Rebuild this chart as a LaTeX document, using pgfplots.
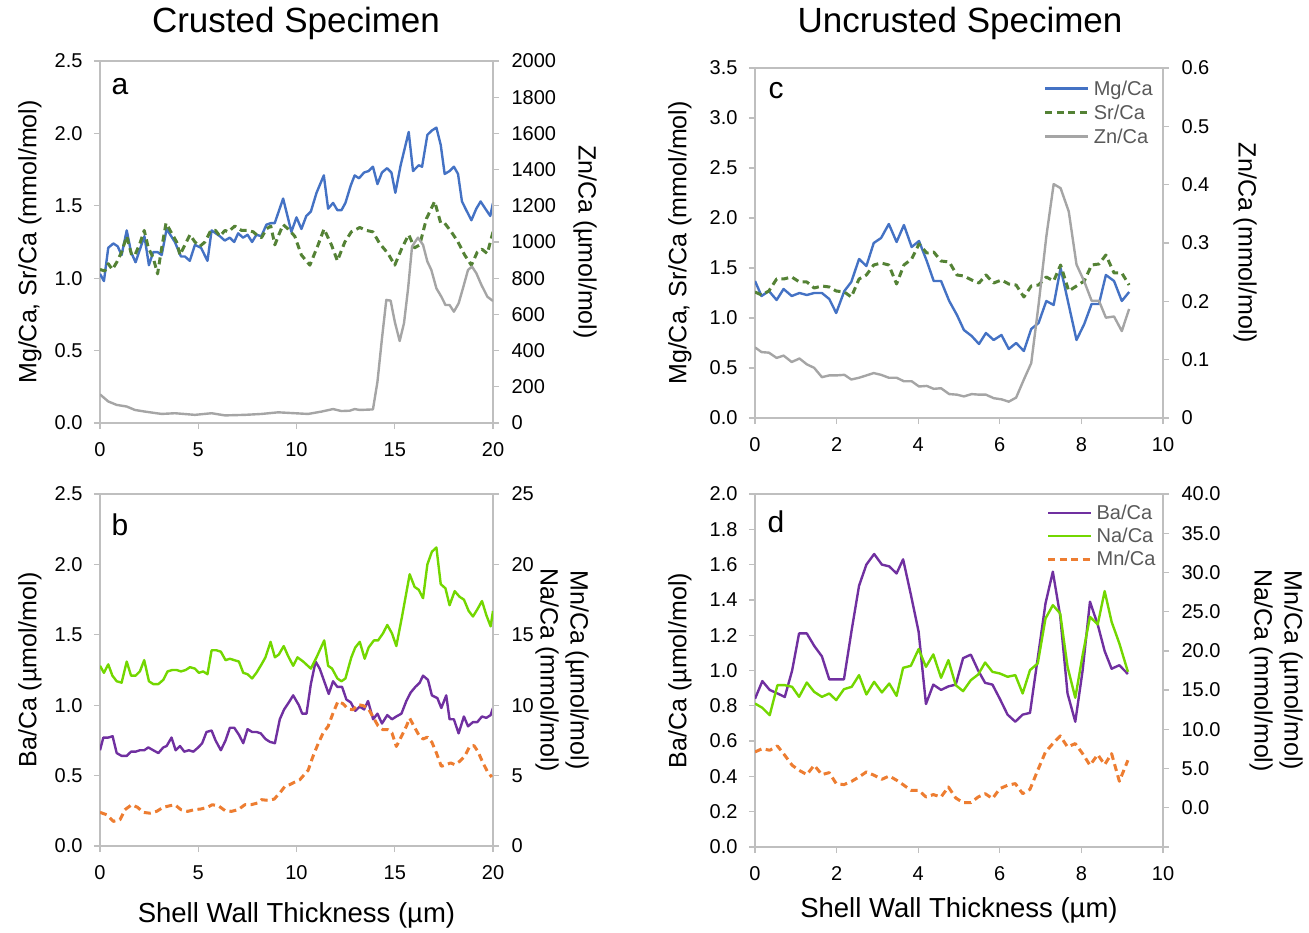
\documentclass[border=0pt]{standalone}
\usepackage{fontspec}
\setmainfont{Liberation Sans}
\usepackage{pgfplots}
\usepackage{pgfplotstable}
\pgfplotsset{compat=1.18}

\definecolor{mgblue}{RGB}{68,114,196}
\definecolor{srgreen}{RGB}{84,130,53}
\definecolor{zngrey}{RGB}{165,165,165}
\definecolor{bapurple}{RGB}{112,48,160}
\definecolor{nagreen}{RGB}{115,215,0}
\definecolor{mnorange}{RGB}{237,125,49}
\definecolor{axisgrey}{RGB}{191,191,191}
\definecolor{legendgrey}{RGB}{89,89,89}

% ---------- crusted specimen: Mg, Sr (mmol/mol), Zn (umol/mol) ----------
\pgfplotstableread{
x y
0 1.03
0.2 0.98
0.42 1.21
0.68 1.24
0.9 1.22
1.1 1.16
1.36 1.33
1.58 1.18
1.81 1.11
2.26 1.29
2.49 1.09
2.71 1.18
2.93 1.18
3.14 1.16
3.39 1.34
3.81 1.25
4.12 1.15
4.32 1.15
4.57 1.12
4.83 1.23
5.14 1.21
5.47 1.12
5.68 1.33
6.1 1.29
6.35 1.26
6.6 1.28
6.83 1.25
7.03 1.31
7.28 1.28
7.51 1.30
7.74 1.25
7.96 1.30
8.21 1.29
8.47 1.37
8.69 1.38
8.89 1.38
9.32 1.55
9.74 1.32
10.0 1.42
10.25 1.34
10.5 1.43
10.73 1.46
11.02 1.59
11.39 1.71
11.61 1.48
11.86 1.52
12.08 1.47
12.29 1.47
12.49 1.52
12.76 1.64
12.96 1.71
13.18 1.69
13.44 1.73
13.67 1.74
13.89 1.77
14.12 1.65
14.35 1.73
14.61 1.76
14.83 1.73
15.03 1.59
15.30 1.78
15.71 2.01
15.93 1.74
16.22 1.78
16.39 1.77
16.66 1.99
16.89 2.02
17.12 2.04
17.34 1.92
17.54 1.72
17.79 1.74
18.01 1.77
18.22 1.72
18.42 1.53
18.64 1.47
18.90 1.40
19.15 1.48
19.37 1.53
19.61 1.48
19.86 1.43
20.0 1.52
}\MgA

\pgfplotstableread{
x y
0 1.06
0.25 1.05
0.42 1.10
0.63 1.06
0.85 1.11
1.1 1.18
1.36 1.29
1.61 1.16
1.78 1.16
2.03 1.24
2.25 1.33
2.46 1.21
2.71 1.14
2.93 1.03
3.14 1.21
3.36 1.38
3.61 1.32
3.9 1.25
4.07 1.16
4.32 1.23
4.58 1.30
4.83 1.25
5.08 1.22
5.34 1.25
5.64 1.33
5.88 1.33
6.1 1.29
6.36 1.33
6.52 1.32
6.86 1.36
7.2 1.33
7.54 1.33
7.8 1.32
8.05 1.29
8.22 1.28
8.47 1.34
8.69 1.36
8.9 1.23
9.1 1.30
9.32 1.37
9.57 1.34
9.91 1.29
10.25 1.16
10.68 1.09
11.1 1.23
11.4 1.34
11.78 1.23
12.08 1.12
12.46 1.25
12.79 1.32
13.22 1.35
13.56 1.33
13.89 1.32
14.23 1.24
14.66 1.17
15.0 1.09
15.37 1.21
15.71 1.30
16.01 1.21
16.27 1.23
16.61 1.41
17.03 1.53
17.34 1.38
17.54 1.38
17.88 1.32
18.22 1.25
18.56 1.16
18.9 1.09
19.2 1.18
19.44 1.20
19.71 1.17
20.0 1.32
}\SrA

\pgfplotstableread{
x y
0 158
0.42 119
0.85 100
1.36 91
1.78 72
2.29 63
3.14 50
3.81 54
4.83 45
5.68 54
6.36 42
7.37 45
8.22 50
9.07 59
9.91 54
10.59 50
11.27 63
11.86 77
12.29 66
12.71 68
12.96 77
13.22 72
13.89 75
14.12 228
14.35 468
14.57 680
14.79 676
15.0 560
15.25 453
15.47 551
15.68 744
15.88 975
16.18 1024
16.44 984
16.66 892
16.86 846
17.12 744
17.37 698
17.58 652
17.79 652
18.01 615
18.25 661
18.47 744
18.73 846
18.93 864
19.15 828
19.41 763
19.71 698
20.0 674
}\ZnA

% ---------- crusted specimen: Ba (umol/mol), Na (mmol/mol), Mn (umol/mol) ----------
\pgfplotstableread{
x y
0 0.68
0.17 0.77
0.42 0.77
0.64 0.78
0.85 0.66
1.1 0.64
1.36 0.64
1.58 0.67
1.81 0.67
2.03 0.68
2.25 0.68
2.46 0.70
2.71 0.68
2.97 0.66
3.22 0.70
3.39 0.71
3.64 0.77
3.85 0.68
4.07 0.71
4.29 0.67
4.52 0.68
4.75 0.67
5.0 0.70
5.2 0.73
5.42 0.81
5.68 0.82
5.88 0.75
6.15 0.68
6.39 0.75
6.61 0.84
6.83 0.84
7.07 0.79
7.29 0.73
7.51 0.83
7.74 0.81
7.96 0.81
8.18 0.80
8.42 0.76
8.64 0.74
8.9 0.73
9.15 0.90
9.37 0.97
9.61 1.02
9.83 1.07
10.12 1.00
10.29 0.94
10.51 0.94
10.73 1.15
10.97 1.31
11.18 1.26
11.41 1.17
11.64 1.08
11.86 1.17
12.08 1.13
12.32 1.13
12.54 1.04
12.76 1.02
12.99 0.96
13.22 0.99
13.44 0.97
13.64 1.03
13.9 0.90
14.12 0.94
14.35 0.87
14.62 0.93
14.86 0.90
15.08 0.92
15.34 0.94
15.59 1.03
15.81 1.09
16.05 1.13
16.27 1.16
16.44 1.21
16.69 1.18
16.89 1.07
17.17 1.05
17.37 0.98
17.62 1.07
17.79 0.90
18.01 0.90
18.25 0.80
18.52 0.92
18.73 0.85
18.98 0.88
19.2 0.88
19.44 0.92
19.66 0.91
19.88 0.93
20.0 0.98
}\BaB

\pgfplotstableread{
x y
0 12.8
0.2 12.3
0.42 12.9
0.63 12.1
0.85 11.7
1.1 11.6
1.36 13.1
1.58 12.1
1.81 12.1
2.03 12.4
2.25 13.2
2.49 11.7
2.71 11.5
2.97 11.5
3.22 11.8
3.44 12.4
3.68 12.5
3.9 12.5
4.12 12.4
4.36 12.5
4.58 12.7
4.83 12.6
5.03 12.3
5.25 12.4
5.47 12.2
5.68 13.9
5.93 13.9
6.15 13.8
6.39 13.2
6.61 13.3
6.83 13.2
7.07 13.1
7.29 12.3
7.51 12.2
7.74 11.9
7.96 12.3
8.22 12.9
8.42 13.4
8.68 14.5
8.9 13.4
9.1 13.6
9.35 14.2
9.57 13.5
9.83 12.8
10.05 13.4
10.34 13.1
10.73 12.6
11.02 13.4
11.41 14.6
11.61 12.8
11.81 12.6
12.08 11.9
12.29 11.7
12.49 11.9
12.79 13.4
12.99 14.1
13.22 14.5
13.47 13.3
13.67 14.1
13.94 14.6
14.15 14.6
14.4 15.1
14.62 15.7
14.86 15.1
15.08 14.2
15.37 16.3
15.76 19.3
16.01 18.4
16.22 18.2
16.44 17.6
16.66 20.0
16.89 20.9
17.12 21.2
17.34 18.6
17.58 18.3
17.79 17.1
18.05 18.1
18.3 17.7
18.52 17.5
18.76 16.7
18.98 16.3
19.2 16.8
19.44 17.4
19.66 16.4
19.88 15.6
20.0 16.7
}\NaB

\pgfplotstableread{
x y
0 2.39
0.34 2.22
0.68 1.75
1.02 1.87
1.27 2.58
1.61 2.93
1.91 2.75
2.2 2.39
2.54 2.33
2.88 2.46
3.22 2.75
3.56 2.86
3.81 2.93
4.12 2.58
4.46 2.46
4.8 2.58
5.14 2.63
5.47 2.75
5.71 2.93
6.02 2.86
6.36 2.52
6.69 2.46
7.03 2.58
7.37 2.93
7.68 2.93
8.01 3.05
8.22 3.29
8.56 3.24
8.86 3.33
9.15 3.76
9.41 4.24
9.66 4.36
9.88 4.52
10.17 4.71
10.39 5.06
10.59 5.37
10.84 6.37
11.06 7.13
11.35 8.02
11.61 8.50
11.86 9.45
12.11 10.27
12.37 10.10
12.62 9.73
12.88 9.68
13.13 10.04
13.39 9.97
13.64 9.80
13.9 9.15
14.15 8.54
14.4 8.26
14.66 8.26
14.86 8.02
15.08 7.07
15.34 7.78
15.59 8.50
15.76 9.08
15.98 8.50
16.22 7.90
16.44 7.60
16.66 7.73
16.89 7.37
17.12 6.61
17.37 5.66
17.62 5.78
17.85 5.90
18.05 5.78
18.3 6.01
18.56 6.37
18.81 7.07
19.03 7.13
19.23 6.72
19.49 5.90
19.71 5.30
19.94 4.90
}\MnB

% ---------- uncrusted specimen: Mg, Sr (mmol/mol), Zn (mmol/mol) ----------
\pgfplotstableread{
x mg sr zn
0 1.37 1.26 0.121
0.16 1.22 1.23 0.113
0.34 1.27 1.27 0.112
0.53 1.18 1.39 0.103
0.70 1.29 1.39 0.107
0.90 1.22 1.41 0.096
1.09 1.25 1.36 0.102
1.27 1.23 1.36 0.092
1.45 1.25 1.30 0.086
1.64 1.25 1.32 0.070
1.82 1.19 1.31 0.073
1.99 1.05 1.27 0.073
2.19 1.27 1.26 0.074
2.36 1.36 1.21 0.066
2.55 1.59 1.39 0.069
2.73 1.52 1.43 0.073
2.91 1.75 1.53 0.077
3.09 1.80 1.55 0.074
3.28 1.94 1.53 0.069
3.47 1.76 1.34 0.069
3.65 1.93 1.53 0.063
3.84 1.71 1.59 0.063
4.02 1.77 1.74 0.054
4.21 1.57 1.65 0.055
4.38 1.37 1.66 0.050
4.56 1.37 1.57 0.051
4.76 1.17 1.56 0.041
4.95 1.03 1.43 0.040
5.12 0.88 1.42 0.037
5.31 0.82 1.38 0.041
5.49 0.74 1.35 0.040
5.66 0.85 1.43 0.040
5.85 0.78 1.35 0.034
6.04 0.83 1.38 0.032
6.22 0.69 1.34 0.028
6.40 0.75 1.33 0.035
6.59 0.67 1.21 0.066
6.77 0.89 1.32 0.094
6.95 0.95 1.33 0.194
7.14 1.17 1.41 0.311
7.32 1.13 1.37 0.401
7.49 1.50 1.53 0.394
7.69 1.13 1.27 0.354
7.88 0.78 1.32 0.263
8.07 0.94 1.37 0.234
8.25 1.14 1.53 0.201
8.43 1.14 1.54 0.201
8.60 1.43 1.63 0.172
8.80 1.37 1.45 0.174
8.99 1.17 1.45 0.149
9.17 1.26 1.33 0.187
}\UnC

% ---------- uncrusted specimen: Ba (umol/mol), Na (mmol/mol), Mn (umol/mol) ----------
\pgfplotstableread{
x ba na mn
0 0.84 13.29 7.12
0.18 0.94 12.74 7.54
0.36 0.89 11.80 7.33
0.55 0.87 15.63 7.88
0.73 0.85 15.63 6.69
0.91 1.00 15.42 5.42
1.08 1.21 14.14 4.78
1.27 1.21 15.97 4.23
1.45 1.14 14.78 5.42
1.64 1.08 14.14 4.23
1.82 0.95 14.57 4.48
1.99 0.95 13.72 3.08
2.18 0.95 15.12 2.95
2.37 1.23 15.42 3.38
2.55 1.48 16.91 3.93
2.73 1.60 14.44 4.57
2.92 1.66 16.06 4.14
3.11 1.60 14.70 3.63
3.29 1.59 15.84 4.06
3.47 1.55 14.27 3.51
3.63 1.63 17.84 2.95
3.82 1.43 18.10 2.23
4.01 1.22 20.23 2.23
4.19 0.81 17.97 1.38
4.37 0.92 19.55 1.68
4.56 0.89 16.57 1.38
4.74 0.91 18.82 2.65
4.92 0.92 15.63 1.25
5.10 1.07 14.87 0.66
5.29 1.09 16.27 0.66
5.47 1.00 16.99 1.38
5.64 0.93 18.52 1.80
5.82 0.92 17.33 1.17
6.00 0.84 17.12 2.44
6.19 0.75 16.70 2.87
6.38 0.71 16.91 3.08
6.56 0.75 14.57 1.80
6.74 0.76 17.55 2.36
6.93 1.07 18.40 4.78
7.12 1.38 24.13 7.12
7.30 1.56 25.83 8.18
7.48 1.31 24.77 9.16
7.66 0.87 17.97 7.76
7.85 0.71 14.02 8.18
8.03 1.00 19.46 6.90
8.21 1.39 24.34 5.42
8.40 1.26 23.37 6.78
8.57 1.11 27.62 5.50
8.74 1.01 23.71 6.90
8.93 1.03 20.95 3.38
9.14 0.98 17.33 6.06
}\UnD

\pgfplotsset{
  panel/.style={
    scale only axis,
    axis line style={draw=axisgrey, line width=1.3pt},
    tick style={draw=axisgrey, line width=1.3pt},
    tick align=outside,
    major tick length=6pt,
    /pgf/number format/assume math mode=true,
    /pgf/number format/1000 sep={},
    ticklabel style={font=\fontsize{20}{24}\selectfont},
    xticklabel style={yshift=-10pt},
    label style={font=\fontsize{25}{30}\selectfont},
    xlabel style={font=\fontsize{27.5}{32}\selectfont,
      at={(axis description cs:0.5,0)}, anchor=center},
    every axis plot/.append style={line join=round},
  },
  % y labels are rotated, so their yshift moves them away from the axis
  leftpanel/.style={panel, ytick pos=left, xtick pos=bottom,
    yticklabel style={xshift=-8pt,
      /pgf/number format/.cd, fixed, fixed zerofill, precision=1},
    ylabel style={at={(axis description cs:0,0.5)}, anchor=center}},
  rightpanel/.style={panel, axis y line*=right, axis x line=none,
    ytick pos=right, yticklabel style={xshift=9pt},
    ylabel style={rotate=180, at={(axis description cs:1,0.5)}, anchor=center}},
  solidline/.style={line width=2.4pt},
  dashline/.style={line width=3pt, dash pattern=on 7pt off 4.5pt},
  legendbox/.style={legend style={draw=none, fill=none, anchor=north east,
      font=\fontsize{20}{22}\selectfont, text=legendgrey, row sep=4pt,
      inner sep=0pt, legend cell align=left,
      nodes={inner xsep=4pt}},
    legend image code/.code={\draw[##1] (0pt,0pt) -- (43pt,0pt);}},
}

\begin{document}
\begin{tikzpicture}
\path[use as bounding box] (0pt,0pt) rectangle (1309pt,-933pt);

% ===== a =====
\begin{axis}[leftpanel, at={(100pt,-61pt)}, anchor=north west,
  width=393pt, height=362pt, xmin=0, xmax=20, ymin=0, ymax=2.5,
  xtick={0,5,...,20}, ytick={0,0.5,...,2.5},
  ylabel style={yshift=70pt},
  ylabel={Mg/Ca, Sr/Ca (mmol/mol)}]
  \addplot[mgblue, solidline] table {\MgA};
  \addplot[srgreen, dashline] table {\SrA};
\end{axis}
\begin{axis}[rightpanel, at={(100pt,-61pt)}, anchor=north west,
  width=393pt, height=362pt, xmin=0, xmax=20, ymin=0, ymax=2000,
  ytick={0,200,...,2000}, ylabel style={yshift=92pt},
  ylabel={Zn/Ca (µmol/mol)}]
  \addplot[zngrey, solidline] table {\ZnA};
\end{axis}

% ===== b =====
\begin{axis}[leftpanel, at={(100pt,-494pt)}, anchor=north west,
  width=393pt, height=352pt, xmin=0, xmax=20, ymin=0, ymax=2.5,
  xtick={0,5,...,20}, ytick={0,0.5,...,2.5},
  ylabel style={yshift=70pt}, xlabel style={yshift=-69pt},
  ylabel={Ba/Ca (µmol/mol)}, xlabel={Shell Wall Thickness (µm)}]
  \addplot[bapurple, solidline] table {\BaB};
\end{axis}
\begin{axis}[rightpanel, at={(100pt,-494pt)}, anchor=north west,
  width=393pt, height=352pt, xmin=0, xmax=20, ymin=0, ymax=25,
  ytick={0,5,...,25}, ylabel style={align=center, yshift=69pt},
  ylabel={Mn/Ca (µmol/mol)\\Na/Ca (mmol/mol)}]
  \addplot[nagreen, solidline] table {\NaB};
  \addplot[mnorange, dashline] table {\MnB};
\end{axis}

% ===== c =====
\begin{axis}[leftpanel, at={(755pt,-68pt)}, anchor=north west,
  width=408pt, height=350pt, xmin=0, xmax=10, ymin=0, ymax=3.5,
  xtick={0,2,...,10}, ytick={0,0.5,...,3.5},
  ylabel style={yshift=75pt},
  ylabel={Mg/Ca, Sr/Ca (mmol/mol)}]
  \addplot[mgblue, solidline] table[y=mg] {\UnC};
  \addplot[srgreen, dashline] table[y=sr] {\UnC};
\end{axis}
\begin{axis}[rightpanel, legendbox, at={(755pt,-68pt)}, anchor=north west,
  width=408pt, height=350pt, xmin=0, xmax=10, ymin=0, ymax=0.6,
  ytick={0,0.1,...,0.6}, ylabel style={yshift=82pt},
  ylabel={Zn/Ca (mmol/mol)},
  yticklabel style={/pgf/number format/.cd, fixed, precision=1},
  legend style={at={(0.985,0.97)}}]
  \addlegendimage{mgblue, solidline}
  \addlegendentry{Mg/Ca}
  \addlegendimage{srgreen, dashline}
  \addlegendentry{Sr/Ca}
  \addplot[zngrey, solidline] table[y=zn] {\UnC};
  \addlegendentry{Zn/Ca}
\end{axis}

% ===== d =====
\begin{axis}[leftpanel, at={(755pt,-494pt)}, anchor=north west,
  width=408pt, height=353pt, xmin=0, xmax=10, ymin=0, ymax=2,
  xtick={0,2,...,10}, ytick={0,0.2,...,2.0},
  ylabel style={yshift=75pt}, xlabel style={yshift=-63pt},
  ylabel={Ba/Ca (µmol/mol)}, xlabel={Shell Wall Thickness (µm)}]
  \addplot[bapurple, solidline] table[y=ba] {\UnD};
\end{axis}
\begin{axis}[rightpanel, legendbox, at={(755pt,-494pt)}, anchor=north west,
  width=408pt, height=353pt, xmin=0, xmax=10, ymin=-5, ymax=40,
  ytick={-5,0,5,...,40},
  yticklabels={{},0.0,5.0,10.0,15.0,20.0,25.0,30.0,35.0,40.0},
  ylabel style={align=center, yshift=113pt},
  ylabel={Mn/Ca (µmol/mol)\\Na/Ca (mmol/mol)},
  legend style={at={(0.992,0.975)}, row sep=3pt}]
  \addlegendimage{bapurple, solidline}
  \addlegendentry{Ba/Ca}
  \addplot[nagreen, solidline] table[y=na] {\UnD};
  \addlegendentry{Na/Ca}
  \addplot[mnorange, dashline] table[y=mn] {\UnD};
  \addlegendentry{Mn/Ca}
\end{axis}

% panel titles and letters
\node[font=\fontsize{35}{40}\selectfont] at (296pt,-23pt) {Crusted Specimen};
\node[font=\fontsize{35}{40}\selectfont] at (960pt,-23pt) {Uncrusted Specimen};
\node[font=\fontsize{30}{36}\selectfont] at (120pt,-87pt) {a};
\node[font=\fontsize{30}{36}\selectfont] at (120pt,-525pt) {b};
\node[font=\fontsize{30}{36}\selectfont] at (776pt,-91pt) {c};
\node[font=\fontsize{30}{36}\selectfont] at (776pt,-522pt) {d};
\end{tikzpicture}
\end{document}
